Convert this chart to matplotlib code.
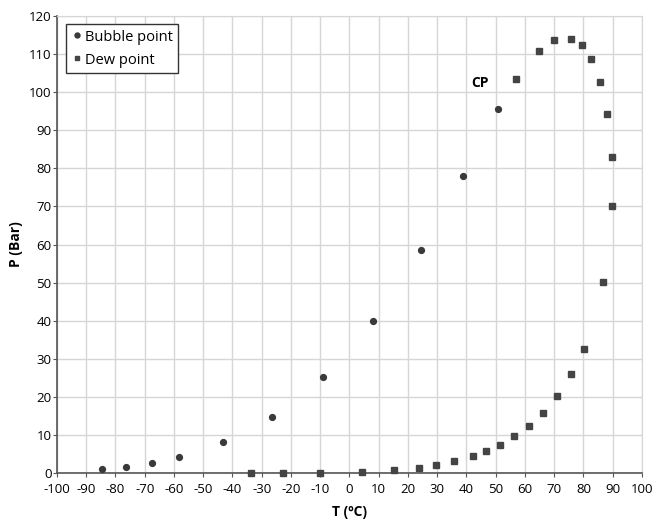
import numpy as np
import matplotlib
matplotlib.use('Agg')
import matplotlib.pyplot as plt

plt.rcParams['font.family'] = ['Open Sans', 'DejaVu Sans']
plt.rcParams['axes.unicode_minus'] = False

# datos
bubble_T = [-84.5, -76.5, -67.6, -58.4, -43.1, -26.6, -9.2, 8.1, 24.4, 38.7, 50.9]
bubble_P = [1.05, 1.7, 2.8, 4.4, 8.2, 14.9, 25.3, 40.0, 58.6, 78.0, 95.5]

dew_T = [-33.7, -22.8, -10.1, 4.3, 15.4, 23.8, 29.6, 35.8, 42.3, 46.7, 51.6, 56.3,
         61.3, 66.2, 71.0, 75.6, 80.1, 86.8, 89.7, 89.7, 88.1, 85.6, 82.6, 79.5,
         75.8, 69.9, 64.8, 57.0]
dew_P = [0.0, 0.0, 0.1, 0.35, 0.9, 1.4, 2.2, 3.2, 4.6, 5.8, 7.5, 9.7,
         12.5, 15.8, 20.3, 26.0, 32.7, 50.1, 70.2, 83.0, 94.1, 102.7, 108.6, 112.3,
         114.0, 113.7, 110.8, 103.4]

xticks = np.arange(-100, 101, 10)
yticks = np.arange(0, 121, 10)

fig = plt.figure(figsize=(6.55, 5.22), dpi=100)
ax = fig.add_axes([0.087, 0.093, 0.893, 0.877])

ax.plot(bubble_T, bubble_P, 'o', color='#3a3a3a', markersize=4.2, label='Bubble point', zorder=3)
ax.plot(dew_T, dew_P, 's', color='#444444', markersize=4.2, label='Dew point', zorder=3, clip_on=False)

ax.text(41.5, 102.3, 'CP', fontsize=10, fontweight='bold', va='center', ha='left')

ax.set_xlim(-100, 100)
ax.set_ylim(0, 120)
ax.set_xticks(xticks)
ax.set_yticks(yticks)
ax.tick_params(labelsize=9.5, length=3, width=0.8, color='#555555')
ax.tick_params(axis='x', pad=4)
ax.tick_params(axis='y', pad=1)
ax.grid(True, color='#d6d6d6', linewidth=1)
ax.set_axisbelow(True)
for s in ['top', 'right']:
    ax.spines[s].set_color('#d6d6d6')
for s in ['left', 'bottom']:
    ax.spines[s].set_color('#555555')
    ax.spines[s].set_linewidth(1.2)

ax.set_xlabel('T (ºC)', fontsize=10, fontweight='bold', labelpad=6)
ax.set_ylabel('P (Bar)', fontsize=10, fontweight='bold', labelpad=4)

leg = ax.legend(loc='upper left', fontsize=10.5, fancybox=False, edgecolor='#333333',
                framealpha=1, handletextpad=0.2, handlelength=0.8, borderpad=0.35,
                labelspacing=0.55, borderaxespad=0.6, markerscale=0.85)
leg.get_frame().set_linewidth(1.0)

fig.savefig('out.png', dpi=100)
